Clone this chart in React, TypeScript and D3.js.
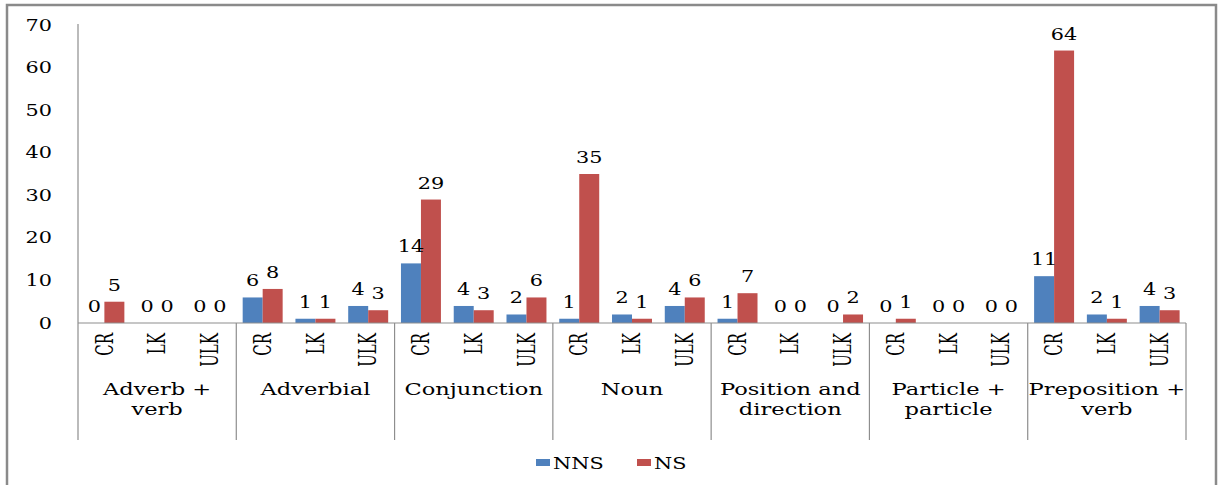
import React from 'react';
import * as d3 from 'd3';

const groups = [
  ['Adverb +', 'verb'],
  ['Adverbial'],
  ['Conjunction'],
  ['Noun'],
  ['Position and', 'direction'],
  ['Particle +', 'particle'],
  ['Preposition +', 'verb'],
];
const subs = ['CR', 'LK', 'ULK'];
const series = ['NNS', 'NS'];
const nnsValues = [0, 0, 0, 6, 1, 4, 14, 4, 2, 1, 2, 4, 1, 0, 0, 0, 0, 0, 11, 2, 4];
const nsValues = [5, 0, 0, 8, 1, 3, 29, 3, 6, 35, 1, 6, 7, 0, 2, 1, 0, 0, 64, 1, 3];
const yTicks = [0, 10, 20, 30, 40, 50, 60, 70];
const colors = ['#4F81BD', '#C0504D'];

const W = 1223;
const H = 485;
const left = 78;
const right = 1186;
const top = 25;
const bottom = 323;
const font = 'DejaVu Serif';
const sx = 1.3; // the text in the picture is stretched sideways

const App = () => {
  const keys = d3.range(groups.length * subs.length).map(String);
  const x = d3.scaleBand().domain(keys).range([left, right]).paddingInner(0).paddingOuter(0);
  const xGroup = d3.scaleBand().domain(d3.range(groups.length).map(String)).range([left, right]);
  const x1 = d3.scaleBand().domain(series).range([0, x.bandwidth()]).paddingInner(0).paddingOuter(0.32);
  const y = d3.scaleLinear().domain([0, 70]).range([bottom, top]);
  const data = [nnsValues, nsValues];

  return (
    <svg width={W} height={H} style={{ position: 'absolute', left: 0, top: 0, background: '#fff' }}
      fontFamily={font}>
      <rect x={7} y={5} width={1209} height={500} fill="#fff" stroke="#8a8a8a" strokeWidth={2.5} />

      {/* y axis */}
      <line x1={left} x2={left} y1={top - 1} y2={bottom} stroke="#8e8e8e" strokeWidth={1.2} />
      {yTicks.map((t) => (
        <text key={t} transform={`translate(52,${y(t)}) scale(${sx},1)`} textAnchor="end"
          dy="0.35em" fontSize={16} fill="#000">{t}</text>
      ))}

      {/* bars */}
      {series.map((s, si) => (
        <g key={s} fill={colors[si]}>
          {data[si].map((v, i) => (
            <rect key={i} x={(x(String(i)) as number) + (x1(s) as number)} y={y(v)}
              width={x1.bandwidth()} height={bottom - y(v)} />
          ))}
        </g>
      ))}

      {/* value labels */}
      {series.map((s, si) => (
        <g key={s + 'l'}>
          {data[si].map((v, i) => (
            <text key={i}
              transform={`translate(${(x(String(i)) as number) + (x1(s) as number) + x1.bandwidth() / 2},${y(v) - 11}) scale(${sx},1)`}
              textAnchor="middle" fontSize={16} fill="#000">{v}</text>
          ))}
        </g>
      ))}

      {/* x axis */}
      <line x1={left} x2={right} y1={bottom} y2={bottom} stroke="#8e8e8e" strokeWidth={1.2} />
      {d3.range(groups.length + 1).map((g) => {
        const gx = g < groups.length ? (xGroup(String(g)) as number) : right;
        return <line key={g} x1={gx} x2={gx} y1={bottom} y2={440} stroke="#8e8e8e" strokeWidth={1.2} />;
      })}
      {keys.map((k, i) => (
        <text key={k}
          transform={`translate(${(x(k) as number) + x.bandwidth() / 2},333) scale(1.55,1) rotate(-90)`}
          textAnchor="end" dy="0.35em" fontSize={15} fill="#000">{subs[i % subs.length]}</text>
      ))}
      {groups.map((lines, g) => (
        <g key={g}>
          {lines.map((ln, li) => (
            <text key={li}
              transform={`translate(${(xGroup(String(g)) as number) + xGroup.bandwidth() / 2},${395 + li * 20}) scale(1.37,1)`}
              textAnchor="middle" fontSize={16.5} fill="#000">{ln}</text>
          ))}
        </g>
      ))}

      {/* legend */}
      {series.map((s, si) => {
        const lx = [536, 637][si];
        return (
          <g key={s}>
            <rect x={lx} y={459} width={14} height={7} fill={colors[si]} />
            <text transform={`translate(${lx + 17},469) scale(${sx},1)`} fontSize={16} fill="#000">{s}</text>
          </g>
        );
      })}
    </svg>
  );
};

export default App;
